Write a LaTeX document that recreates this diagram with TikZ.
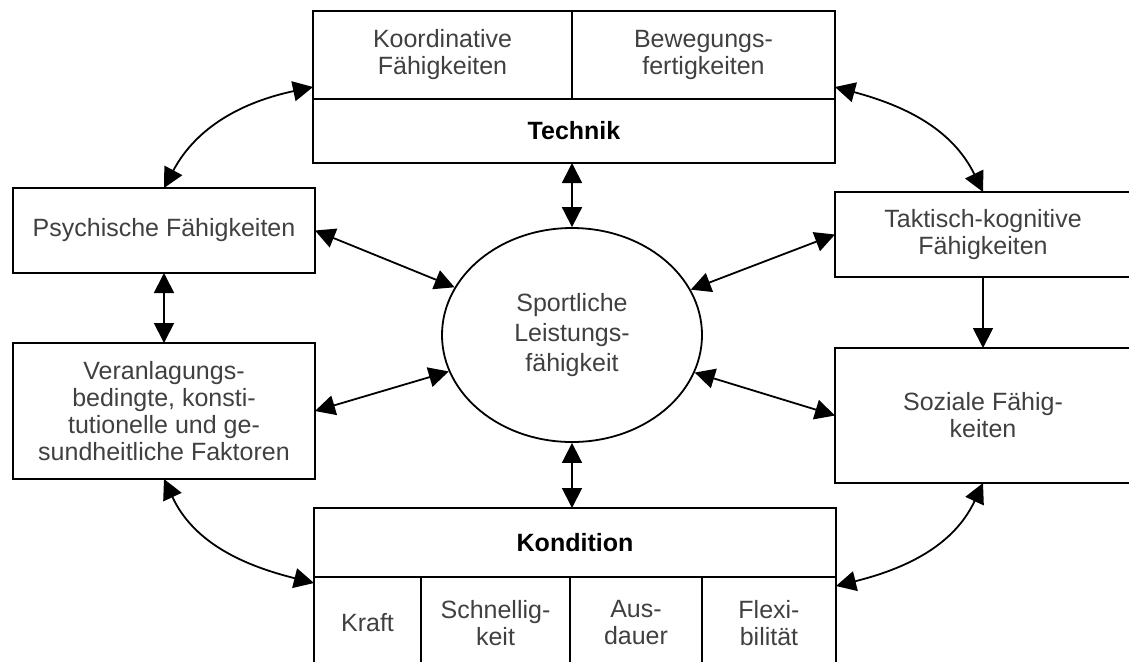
\documentclass[tikz,border=0pt]{standalone}
\usepackage{fontspec}
\setmainfont{Liberation Sans}
\usetikzlibrary{positioning,arrows.meta,shapes.geometric}

\begin{document}
\begin{tikzpicture}[
    x=0.5pt, y=-0.5pt,
    box/.style={draw, line width=1pt, outer sep=0pt, inner sep=2pt, align=center, text=black!75, font=\fontsize{12.5}{13.5}\selectfont},
    head/.style={box, text=black, font=\fontsize{12.5}{13.5}\selectfont\bfseries},
    link/.style={line width=0.9pt},
    >={Triangle[length=10pt,width=10pt]}
  ]
    \clip (0,0) rectangle (1129,661);

    \node[head, minimum width=261pt, minimum height=32pt] (tech) at (574,131) {Technik};
    \node[box, minimum width=129.5pt, minimum height=44pt, above right=0pt and 0pt of tech.north west] (koord) {Koordinative\\Fähigkeiten};
    \node[box, minimum width=131.5pt, minimum height=44pt, right=0pt of koord] (beweg) {Bewegungs-\\fertigkeiten};

    \node[box, minimum width=151pt, minimum height=42.5pt] (psych) at (164,230.5) {Psychische Fähigkeiten};
    \node[box, minimum width=151pt, minimum height=68pt] (anlage) at (164,411) {Veranlagungs-\\bedingte, konsti-\\tutionelle und ge-\\sundheitliche Faktoren};
    \node[box, minimum width=148pt, minimum height=42.5pt] (takt) at (983,234.5) {Taktisch-kognitive\\Fähigkeiten};
    \node[box, minimum width=148pt, minimum height=67.5pt] (sozial) at (983,415.5) {Soziale Fähig-\\keiten};
    \node[ellipse, draw, line width=0.9pt, minimum width=130pt, minimum height=107pt, inner sep=0pt, align=center, text=black!75, font=\fontsize{12.5}{15}\selectfont] (leist) at (572,335) {Sportliche\\Leistungs-\\fähigkeit};

    \node[head, minimum width=261pt, minimum height=34.5pt] (kond) at (575,542.5) {Kondition};
    \node[box, minimum width=53.5pt, minimum height=46pt, below right=0pt and 0pt of kond.south west] (kraft) {Kraft};
    \node[box, minimum width=74.5pt, minimum height=46pt, right=0pt of kraft] (schnell) {Schnellig-\\keit};
    \node[box, minimum width=66pt, minimum height=46pt, right=0pt of schnell] (ausd) {Aus-\\dauer};
    \node[box, minimum width=67pt, minimum height=46pt, right=0pt of ausd] (flex) {Flexi-\\bilität};

    \draw[<->, link] (leist.north |- tech.south) -- (leist.north);
    \draw[<->, link] (leist.south) -- (leist.south |- kond.north);
    \draw[<->, link] (psych.south) -- (anlage.north);
    \draw[->, link] (takt.south) -- (sozial.north);
    \draw[<->, link] (psych.east) -- (leist);
    \draw[<->, link] (anlage.east) -- (leist);
    \draw[<->, link] (takt.west) -- (leist);
    \draw[<->, link] (sozial.west) -- (leist);

    \draw[<->, link] (psych.north) to[out=62, in=192] ([yshift=6pt]koord.south west);
    \draw[<->, link] ([yshift=6pt]beweg.south east) to[out=-15, in=116] (takt.north);
    \draw[<->, link] (anlage.south) to[out=-65, in=166] ([yshift=-3pt]kraft.north west);
    \draw[<->, link] (sozial.south) to[out=-115, in=14] ([yshift=-4.5pt]flex.north east);
  \end{tikzpicture}
\end{document}
